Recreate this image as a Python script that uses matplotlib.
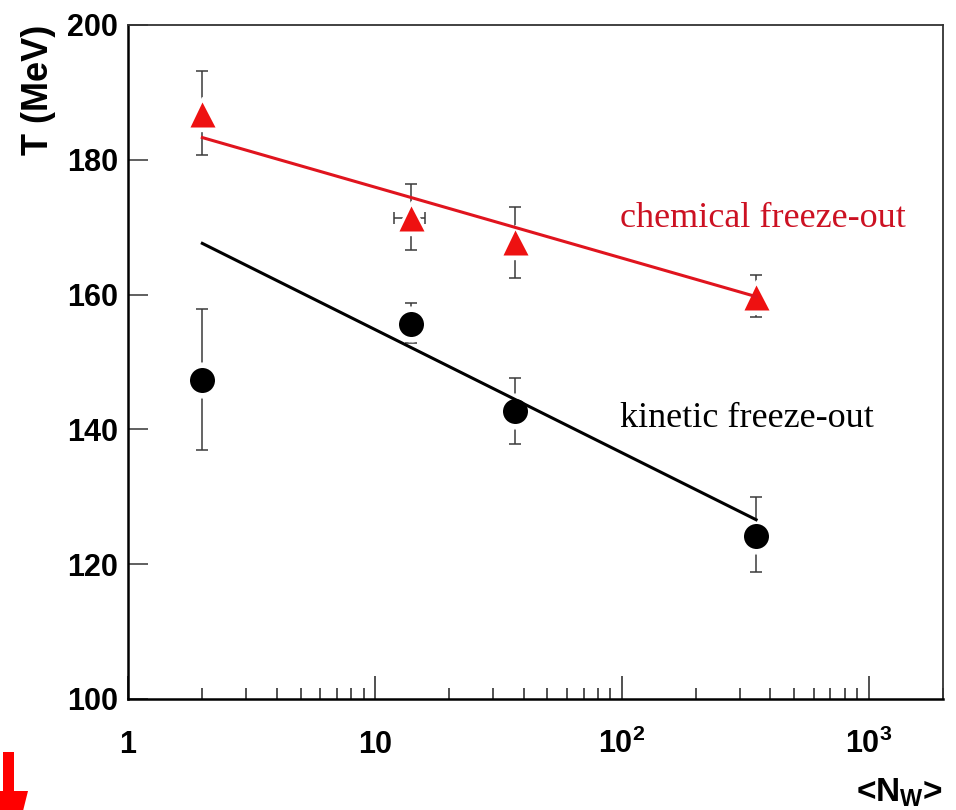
import numpy as np
import matplotlib.pyplot as plt
from matplotlib.patches import Polygon

plt.rcParams['mathtext.fontset'] = 'custom'
plt.rcParams['mathtext.rm'] = 'Liberation Sans:bold'
plt.rcParams['mathtext.bf'] = 'Liberation Sans:bold'
plt.rcParams['mathtext.it'] = 'Liberation Sans:bold'

# mean number of wounded nucleons for each system
n_w = [2, 14, 37, 350]
n_w_err = [0, 2, 0, 0]

# chemical freeze-out temperature (MeV)
t_chem = [186.8, 171.4, 167.8, 159.7]
t_chem_lo = [6.1, 4.8, 5.4, 3.0]
t_chem_hi = [6.4, 5.0, 5.2, 3.2]

# kinetic freeze-out temperature (MeV)
t_kin = [147.3, 155.7, 142.8, 124.2]
t_kin_lo = [10.3, 2.9, 4.9, 5.4]
t_kin_hi = [10.5, 3.0, 4.9, 5.7]

# straight-line fits in log(N_W)
fit_x = [2, 350]
fit_chem = [183.3, 159.7]
fit_kin = [167.6, 126.6]

W, H = 956, 810
fig = plt.figure(figsize=(W / 100, H / 100), dpi=100)
ax = fig.add_axes([128 / W, 1 - 699 / H, (943 - 128) / W, (699 - 25) / H])

red = '#ee1111'
bar_col = '#3a3a3a'

# error bars first, white discs leave a gap round the markers
ax.errorbar(n_w, t_chem, yerr=[t_chem_lo, t_chem_hi], xerr=n_w_err, fmt='none',
            ecolor=bar_col, elinewidth=1.1, capsize=4, capthick=1.1, zorder=1)
ax.errorbar(n_w, t_kin, yerr=[t_kin_lo, t_kin_hi], fmt='none',
            ecolor=bar_col, elinewidth=1.1, capsize=4, capthick=1.1, zorder=1)
ax.plot(n_w, t_chem, '^', ms=25, color='white', zorder=2)
ax.plot(n_w, t_kin, 'o', ms=25, color='white', zorder=2)
ax.plot(n_w, t_chem, '^', ms=18, color=red, mec='none', zorder=3)
ax.plot(n_w, t_kin, 'o', ms=18, color='black', mec='none', zorder=3)

ax.plot(fit_x, fit_chem, '-', color='#e0141e', lw=2.2, zorder=4)
ax.plot(fit_x, fit_kin, '-', color='black', lw=2.2, zorder=4)

ax.text(98, 170.0, 'chemical freeze-out', family='Liberation Serif', fontsize=26,
        color='#cc1122', va='baseline', ha='left')
ax.text(98, 140.3, 'kinetic freeze-out', family='Liberation Serif', fontsize=26,
        color='black', va='baseline', ha='left')

ax.set_xscale('log')
ax.set_xlim(1, 2000)
ax.set_ylim(100, 200)

ax.set_yticks([100, 120, 140, 160, 180, 200])
ax.set_yticklabels(['100', '120', '140', '160', '180', '200'],
                   family='Liberation Sans', fontweight='bold', fontsize=22)
ax.yaxis.set_minor_locator(plt.NullLocator())
ax.set_xticks([1, 10, 100, 1000])
ax.set_xticklabels(['1', '10', r'$\mathbf{10^{2}}$', r'$\mathbf{10^{3}}$'],
                   family='Liberation Sans', fontweight='bold', fontsize=22)
for lab in ax.get_xticklabels():
    lab.set_va('baseline')

ax.tick_params(axis='y', which='major', direction='in', length=14.5, width=1.2,
               color='#444444', pad=7, right=False)
ax.tick_params(axis='x', which='major', direction='in', length=16.5, width=1.2,
               color='#333333', pad=39, top=False)
ax.tick_params(axis='x', which='minor', direction='in', length=8, width=1.2,
               color='#333333', top=False)

for side in ['left', 'bottom']:
    ax.spines[side].set_linewidth(1.8)
for side in ['top', 'right']:
    ax.spines[side].set_linewidth(1.3)
    ax.spines[side].set_color('#333333')

ax.set_ylabel('T (MeV)', family='Liberation Sans', fontweight='bold', fontsize=26,
              loc='top', labelpad=8)
ax.set_xlabel(r'<N$_\mathbf{W}$>', family='Liberation Sans', fontweight='bold',
              fontsize=24, loc='right', labelpad=12)

# red marker arrow in the lower left corner
def px(x, y):
    return (x / W, 1 - y / H)

stem = Polygon([px(3, 752), px(14, 752), px(14, 792), px(3, 792)],
               closed=True, transform=fig.transFigure, color='red', lw=0)
head = Polygon([px(-12, 791), px(28, 791), px(22, 815), px(-6, 815)],
               closed=True, transform=fig.transFigure, color='red', lw=0)
fig.patches.extend([stem, head])

fig.savefig('out.png', dpi=100)
